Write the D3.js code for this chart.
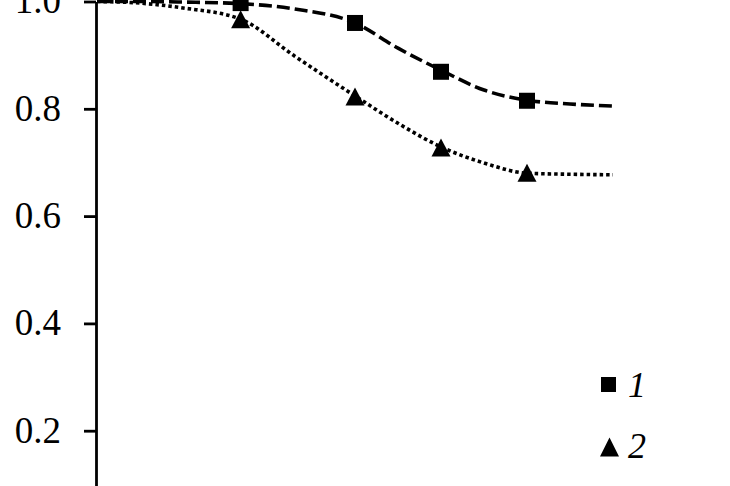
<!DOCTYPE html>
<html>
<head>
<meta charset="utf-8">
<script src="https://cdn.jsdelivr.net/npm/d3@7"></script>
<style>
  html, body { margin: 0; padding: 0; background: #fff; }
  svg { display: block; }
</style>
</head>
<body>
<svg id="chart" width="730" height="486"></svg>
<script>
// measured points
const xPoints = [1.67, 3, 4, 5];
const series1 = [0.997, 0.96, 0.869, 0.815];
const series2 = [0.967, 0.823, 0.728, 0.681];

// fitted curves
const fitX = [0, 0.5, 1, 1.67, 2.3, 3, 3.5, 4, 4.5, 5, 5.5, 6];
const fit1 = [1.0, 1.0, 0.999, 0.996, 0.986, 0.96, 0.913, 0.872, 0.835, 0.816, 0.809, 0.805];
const fit2 = [1.0, 0.997, 0.988, 0.967, 0.898, 0.824, 0.773, 0.729, 0.699, 0.68, 0.678, 0.677];

const yTicks = [0.2, 0.4, 0.6, 0.8, 1.0];
const legendLabels = ["1", "2"];

const svg = d3.select('#chart');

let x = d3.scaleLinear().domain([0, 6]).range([97, 613]);
let y = d3.scaleLinear().domain([0, 1]).range([538, 1.5]);

// y axis
let yAxis = d3.axisLeft(y)
  .tickValues(yTicks)
  .tickFormat(d3.format('.1f'))
  .tickSize(12)
  .tickSizeOuter(0)
  .tickPadding(23);

let axisG = svg.append('g')
  .attr('transform', 'translate(96,0)')
  .call(yAxis);

axisG.select('.domain').attr('stroke', '#000').attr('stroke-width', 2.8);
axisG.selectAll('.tick line').attr('stroke', '#000').attr('stroke-width', 2.8);
axisG.selectAll('.tick text')
  .attr('fill', '#000')
  .attr('font-family', '"Liberation Serif", "Times New Roman", serif')
  .attr('font-size', 37)
  .attr('dy', '0.31em');

let line = d3.line().curve(d3.curveMonotoneX);

// fitted lines
svg.append('path')
  .attr('d', line(fitX.map((d, i) => [x(d), y(fit1[i])])))
  .attr('fill', 'none')
  .attr('stroke', '#000')
  .attr('stroke-width', 3.6)
  .attr('stroke-dasharray', '13 5');

svg.append('path')
  .attr('d', line(fitX.map((d, i) => [x(d), y(fit2[i])])))
  .attr('fill', 'none')
  .attr('stroke', '#000')
  .attr('stroke-width', 3.6)
  .attr('stroke-dasharray', '3.5 3');

// markers
const sq = 16;
svg.selectAll('rect.s1')
  .data(xPoints)
  .join('rect')
  .attr('class', 's1')
  .attr('x', (d) => x(d) - sq / 2)
  .attr('y', (d, i) => y(series1[i]) - sq / 2)
  .attr('width', sq)
  .attr('height', sq)
  .attr('fill', '#000');

function tri(cx, cy, w, h) {
  return `M${cx},${cy - h / 2}L${cx + w / 2},${cy + h / 2}L${cx - w / 2},${cy + h / 2}Z`;
}

svg.selectAll('path.s2')
  .data(xPoints)
  .join('path')
  .attr('class', 's2')
  .attr('d', (d, i) => tri(x(d), y(series2[i]), 19, 18))
  .attr('fill', '#000');

// legend
let legend = svg.append('g');
legend.append('rect')
  .attr('x', 601).attr('y', 377)
  .attr('width', 15).attr('height', 15)
  .attr('fill', '#000');
legend.append('path')
  .attr('d', tri(609.5, 447, 19, 19))
  .attr('fill', '#000');

legend.selectAll('text')
  .data(legendLabels)
  .join('text')
  .attr('x', 628)
  .attr('y', (d, i) => 397 + i * 61)
  .attr('font-family', '"Liberation Serif", "Times New Roman", serif')
  .attr('font-style', 'italic')
  .attr('font-size', 36)
  .attr('fill', '#000')
  .text((d) => d);
</script>
</body>
</html>
